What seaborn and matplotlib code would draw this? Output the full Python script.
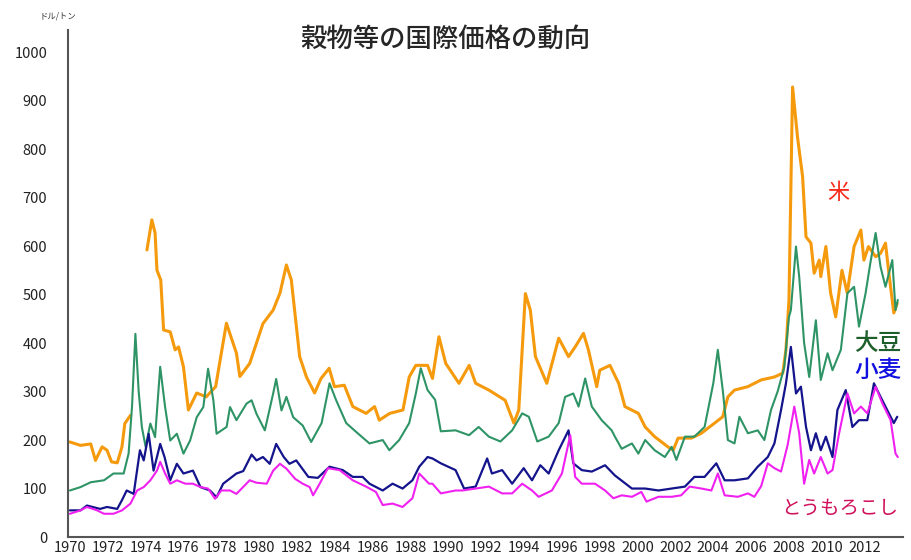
import numpy as np
import pandas as pd
import seaborn as sns
import matplotlib.pyplot as plt

# 米 (rice) - gap in 1973/74
rice_years_a = [1970.0, 1970.56, 1971.1, 1971.35, 1971.7, 1971.96, 1972.2, 1972.5, 1972.75, 1972.9, 1973.2]
rice_vals_a = [196, 189, 192, 158, 186, 179, 155, 153, 186, 234, 251]
rice_years_b = [1974.07, 1974.33, 1974.5, 1974.6, 1974.8, 1974.95, 1975.3, 1975.56, 1975.74, 1976.0,
                1976.26, 1976.7, 1977.2, 1977.7, 1978.27, 1978.8, 1978.98, 1979.5, 1980.2, 1980.74,
                1981.1, 1981.44, 1981.7, 1982.14, 1982.5, 1982.93, 1983.27, 1983.7, 1983.98, 1984.5,
                1984.95, 1985.65, 1986.1, 1986.35, 1986.9, 1987.6, 1987.93, 1988.28, 1988.9, 1989.16,
                1989.5, 1989.86, 1990.56, 1991.1, 1991.44, 1992.14, 1993.0, 1993.46, 1993.72, 1994.07,
                1994.33, 1994.6, 1995.2, 1995.83, 1996.35, 1996.7, 1997.14, 1997.4, 1997.84, 1998.0,
                1998.54, 1999.0, 1999.33, 2000.04, 2000.4, 2000.9, 2001.6, 2001.88, 2002.14, 2002.84,
                2003.37, 2004.07, 2004.5, 2004.77, 2005.12, 2005.82, 2006.53, 2007.23, 2007.67, 2007.84,
                2008.0, 2008.19, 2008.45, 2008.72, 2008.9, 2009.16, 2009.33, 2009.6, 2009.68, 2009.95,
                2010.2, 2010.47, 2010.8, 2011.08, 2011.44, 2011.8, 2011.96, 2012.2, 2012.58, 2012.84,
                2013.1, 2013.28, 2013.54, 2013.72]
rice_vals_b = [592, 654, 627, 550, 530, 427, 423, 386, 392, 351,
               262, 297, 289, 310, 441, 379, 331, 358, 440, 468,
               503, 561, 530, 372, 330, 297, 327, 348, 310, 313,
               269, 255, 269, 241, 255, 262, 330, 354, 354, 327,
               413, 358, 317, 354, 317, 303, 282, 235, 262, 502,
               468, 372, 317, 410, 372, 392, 420, 386, 310, 344,
               354, 317, 269, 255, 227, 207, 186, 179, 204, 204,
               214, 235, 248, 289, 303, 310, 324, 330, 338, 386,
               489, 928, 825, 743, 619, 606, 544, 571, 537, 599,
               503, 454, 550, 503, 599, 633, 571, 599, 578, 585,
               606, 544, 462, 482]

# 大豆 (soybean)
soy_years = [1970.0, 1970.56, 1971.1, 1971.8, 1972.3, 1972.84, 1973.1, 1973.28, 1973.46, 1973.63,
             1973.8, 1974.0, 1974.25, 1974.5, 1974.77, 1975.03, 1975.3, 1975.65, 1976.0, 1976.35,
             1976.7, 1977.05, 1977.3, 1977.58, 1977.75, 1978.28, 1978.46, 1978.8, 1979.33, 1979.6,
             1979.86, 1980.3, 1980.74, 1980.9, 1981.18, 1981.44, 1981.8, 1982.3, 1982.75, 1983.3,
             1983.72, 1984.07, 1984.6, 1985.12, 1985.83, 1986.53, 1986.88, 1987.4, 1987.93, 1988.28,
             1988.54, 1988.9, 1989.3, 1989.6, 1990.38, 1991.09, 1991.6, 1992.14, 1992.75, 1993.37,
             1993.9, 1994.25, 1994.7, 1995.3, 1995.83, 1996.17, 1996.6, 1996.88, 1997.23, 1997.58,
             1998.1, 1998.63, 1998.8, 1999.16, 1999.7, 2000.04, 2000.4, 2000.9, 2001.44, 2001.8,
             2002.05, 2002.5, 2003.0, 2003.54, 2004.0, 2004.24, 2004.5, 2004.77, 2005.12, 2005.38,
             2005.83, 2006.35, 2006.7, 2007.05, 2007.4, 2007.75, 2008.0, 2008.1, 2008.37, 2008.54,
             2008.8, 2009.07, 2009.42, 2009.68, 2010.04, 2010.3, 2010.74, 2011.09, 2011.44, 2011.7,
             2012.05, 2012.3, 2012.58, 2012.84, 2013.1, 2013.46, 2013.63, 2013.75]
soy_vals = [96, 103, 113, 117, 131, 131, 172, 268, 419, 302,
            227, 186, 234, 206, 351, 268, 199, 213, 172, 199,
            247, 268, 347, 282, 213, 227, 268, 241, 275, 282,
            254, 220, 296, 326, 261, 289, 247, 230, 196, 235,
            317, 282, 235, 217, 193, 200, 179, 200, 235, 296,
            348, 303, 283, 218, 220, 210, 227, 207, 197, 220,
            255, 248, 197, 207, 235, 289, 296, 269, 327, 269,
            241, 220, 207, 182, 193, 172, 200, 179, 165, 186,
            159, 207, 207, 227, 317, 386, 303, 200, 193, 248,
            214, 220, 200, 262, 300, 350, 454, 468, 599, 537,
            400, 330, 447, 324, 379, 344, 386, 503, 516, 434,
            503, 565, 627, 557, 516, 571, 468, 489]

# 小麦 (wheat)
wheat_years = [1970.0, 1970.56, 1970.9, 1971.6, 1971.96, 1972.5, 1972.75, 1973.0, 1973.37, 1973.7,
               1973.9, 1974.16, 1974.42, 1974.77, 1975.0, 1975.3, 1975.65, 1976.0, 1976.5, 1976.9,
               1977.4, 1977.75, 1978.1, 1978.8, 1979.16, 1979.6, 1979.86, 1980.2, 1980.56, 1980.9,
               1981.3, 1981.6, 1981.96, 1982.6, 1983.1, 1983.72, 1984.42, 1984.95, 1985.47, 1985.83,
               1986.53, 1987.05, 1987.58, 1988.1, 1988.46, 1988.9, 1989.16, 1989.6, 1990.38, 1990.83,
               1991.44, 1992.05, 1992.3, 1992.84, 1993.37, 1993.98, 1994.42, 1994.86, 1995.3, 1995.83,
               1996.35, 1996.6, 1997.05, 1997.58, 1998.28, 1998.8, 1999.7, 2000.4, 2001.1, 2001.8,
               2002.5, 2003.0, 2003.54, 2004.16, 2004.6, 2005.12, 2005.83, 2006.35, 2006.88, 2007.23,
               2007.58, 2007.84, 2008.1, 2008.37, 2008.63, 2008.9, 2009.16, 2009.42, 2009.68, 2009.95,
               2010.3, 2010.56, 2011.0, 2011.35, 2011.7, 2012.14, 2012.49, 2012.84, 2013.28, 2013.54,
               2013.72]
wheat_vals = [55, 55, 65, 58, 62, 58, 76, 96, 89, 179,
              158, 213, 137, 192, 165, 117, 151, 131, 137, 103,
              96, 82, 110, 131, 136, 170, 158, 165, 151, 192,
              165, 151, 158, 124, 122, 145, 138, 124, 124, 110,
              96, 110, 100, 117, 145, 165, 162, 152, 138, 100,
              104, 162, 131, 138, 110, 142, 117, 148, 131, 179,
              220, 152, 138, 135, 148, 127, 100, 100, 96, 100,
              104, 124, 124, 152, 117, 117, 121, 145, 165, 193,
              262, 317, 392, 296, 310, 227, 179, 214, 179, 207,
              165, 262, 303, 227, 241, 241, 317, 289, 255, 235,
              248]

# とうもろこし (corn)
corn_years = [1970.0, 1970.56, 1970.9, 1971.44, 1971.8, 1972.3, 1972.75, 1973.2, 1973.55, 1973.9,
              1974.25, 1974.6, 1974.77, 1975.03, 1975.3, 1975.65, 1976.1, 1976.5, 1976.9, 1977.3,
              1977.67, 1978.0, 1978.46, 1978.8, 1979.5, 1979.86, 1980.4, 1980.74, 1981.1, 1981.44,
              1981.9, 1982.3, 1982.67, 1982.85, 1983.2, 1983.63, 1984.25, 1984.95, 1985.65, 1986.17,
              1986.53, 1987.05, 1987.58, 1988.1, 1988.46, 1988.98, 1989.16, 1989.6, 1990.38, 1990.74,
              1991.44, 1992.14, 1992.84, 1993.37, 1993.9, 1994.42, 1994.77, 1995.47, 1996.0, 1996.44,
              1996.7, 1997.05, 1997.75, 1998.28, 1998.72, 1999.16, 1999.7, 2000.2, 2000.47, 2001.1,
              2001.8, 2002.3, 2002.75, 2003.37, 2003.9, 2004.24, 2004.6, 2005.3, 2005.83, 2006.17,
              2006.53, 2006.88, 2007.23, 2007.58, 2007.93, 2008.28, 2008.54, 2008.8, 2009.07, 2009.33,
              2009.68, 2010.04, 2010.3, 2010.65, 2011.09, 2011.44, 2011.8, 2012.14, 2012.58, 2012.93,
              2013.37, 2013.63, 2013.75]
corn_vals = [48, 55, 62, 55, 48, 48, 55, 69, 96, 103,
             117, 137, 155, 131, 110, 117, 110, 110, 103, 100,
             79, 96, 96, 89, 117, 112, 110, 137, 151, 141,
             120, 110, 103, 86, 110, 142, 138, 117, 104, 93,
             66, 69, 62, 80, 131, 110, 110, 90, 96, 96,
             100, 104, 90, 90, 110, 96, 83, 96, 131, 210,
             124, 110, 110, 96, 80, 86, 83, 93, 73, 83,
             83, 86, 104, 100, 96, 131, 86, 83, 90, 83,
             105, 152, 142, 135, 190, 269, 214, 110, 159, 131,
             165, 131, 138, 214, 296, 255, 269, 255, 310, 276,
             241, 172, 165]

label_names = ['米', '大豆', '小麦', 'とうもろこし']
label_colors = ['#f52a1a', '#1e5e2a', '#1010e0', '#d0105a']
year_ticks = list(range(1970, 2013, 2))

sns.set_style('white')
plt.rcParams['font.family'] = ['Noto Sans CJK JP', 'DejaVu Sans']

fig = plt.figure(figsize=(9.12, 5.6), dpi=100)
ax = fig.add_axes([0.0746, 0.041, 0.915, 0.905])

sns.lineplot(x=rice_years_a, y=rice_vals_a, ax=ax, color='#f59a0c', linewidth=2.2)
sns.lineplot(x=rice_years_b, y=rice_vals_b, ax=ax, color='#f59a0c', linewidth=2.2)
sns.lineplot(x=soy_years, y=soy_vals, ax=ax, color='#2e9466', linewidth=1.5)
sns.lineplot(x=wheat_years, y=wheat_vals, ax=ax, color='#14148c', linewidth=1.6)
sns.lineplot(x=corn_years, y=corn_vals, ax=ax, color='#f020f0', linewidth=1.5)

ax.set_xlim(1969.9, 2014.0)
ax.set_ylim(0, 1045)
ax.set_yticks(range(0, 1001, 100))
ax.set_xticks(year_ticks)
ax.set_xticks(range(1970, 2014), minor=True)
ax.set_xticklabels([str(y) for y in year_ticks], fontsize=10.5, color='#222222')
ax.tick_params(axis='y', labelsize=10.5, colors='#222222', direction='in', length=3, pad=15)
ax.tick_params(axis='x', which='both', direction='in', length=3, pad=3)
for lbl in ax.get_yticklabels():
    lbl.set_horizontalalignment('right')

for side in ['top', 'right']:
    ax.spines[side].set_visible(False)
for side in ['left', 'bottom']:
    ax.spines[side].set_color('#555555')
    ax.spines[side].set_linewidth(1.5)

fig.text(0.488, 0.929, '穀物等の国際価格の動向', fontsize=19, fontweight='medium', ha='center', va='center')
fig.text(0.063, 0.972, 'ドル/トン', fontsize=6, ha='center', va='center', color='#333333')

ax.text(2010.6, 711, label_names[0], color=label_colors[0], fontsize=16, ha='center', va='center')
ax.text(2012.7, 400, label_names[1], color=label_colors[1], fontsize=17, fontweight='medium', ha='center', va='center')
ax.text(2012.7, 344, label_names[2], color=label_colors[2], fontsize=17, fontweight='medium', ha='center', va='center')
ax.text(2010.7, 60, label_names[3], color=label_colors[3], fontsize=14, ha='center', va='center')

fig.savefig('out.png', dpi=100)
